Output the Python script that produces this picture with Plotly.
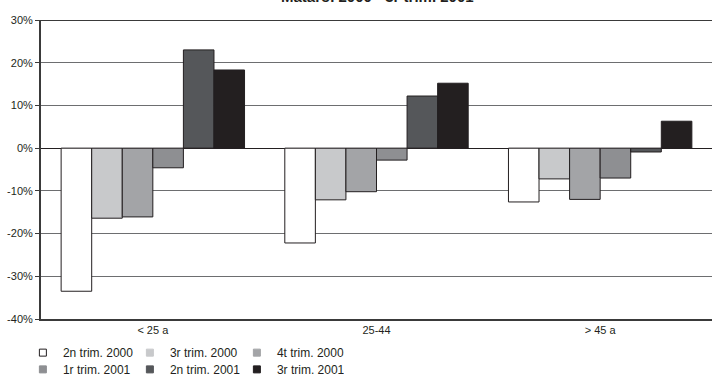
import plotly.graph_objects as go

groups = ['< 25 a', '25-44', '> 45 a']
series = ['2n trim. 2000', '3r trim. 2000', '4t trim. 2000',
          '1r trim. 2001', '2n trim. 2001', '3r trim. 2001']
values = [
    [-33.5, -22.2, -12.6],
    [-16.4, -12.1, -7.2],
    [-16.1, -10.2, -12.0],
    [-4.6, -2.8, -7.0],
    [23.0, 12.2, -0.9],
    [18.3, 15.2, 6.3],
]
colors = ['#ffffff', '#c8c9cb', '#a3a4a7', '#8e8f92', '#55575a', '#231f20']
y_ticks = [30, 20, 10, 0, -10, -20, -30, -40]
y_labels = [f'{v}%' for v in y_ticks]
title = 'Mataró. 2000 - 3r trim. 2001'

fig = go.Figure()

for name, vals, col in zip(series, values, colors):
    fig.add_trace(go.Bar(
        x=groups, y=vals, name=name, showlegend=False,
        marker=dict(color=col, line=dict(color='#231f20', width=1)),
    ))

# small square legend markers, two rows of three like the original
for i, (name, col) in enumerate(zip(series, colors)):
    fig.add_trace(go.Scatter(
        x=[None], y=[None], mode='markers', name=name,
        legend='legend' if i < 3 else 'legend2',
        marker=dict(symbol='square', size=7, color=col,
                    line=dict(color='#231f20' if col == '#ffffff' else col, width=1)),
    ))

leg = dict(orientation='h', xanchor='left', yanchor='top', x=-0.027,
           entrywidth=62, entrywidthmode='pixels', itemwidth=30,
           font=dict(size=12), bgcolor='rgba(0,0,0,0)')

fig.update_layout(
    width=712, height=376,
    margin=dict(l=41, r=0, t=20, b=57, autoexpand=False),
    plot_bgcolor='white', paper_bgcolor='white',
    font=dict(family='Liberation Sans, Arial, sans-serif', size=11, color='#231f20'),
    barmode='group', bargap=0.18, bargroupgap=0,
    legend=dict(leg, y=-0.064),
    legend2=dict(leg, y=-0.120),
)

# title sits partly above the page edge, as in the original
fig.add_annotation(text=f'<b>{title}</b>', x=0.502, y=1.043, xref='paper', yref='paper',
                   xanchor='center', yanchor='bottom', showarrow=False,
                   font=dict(size=15))

fig.update_yaxes(
    range=[-40, 30], tickvals=y_ticks, ticktext=y_labels,
    showgrid=True, gridcolor='#6d6e70', gridwidth=1,
    zeroline=True, zerolinecolor='#231f20', zerolinewidth=1,
    showline=True, linecolor='#3a3a3a', linewidth=2,
    ticks='outside', ticklen=4, tickcolor='#3a3a3a',
)
fig.update_xaxes(
    showline=True, linecolor='#3a3a3a', linewidth=2, ticks='',
)
# top border of the plot area
fig.add_hline(y=30, line=dict(color='#3a3a3a', width=2))

fig.write_html('out.html', config={'displayModeBar': False},
               post_script="document.body.style.margin='0';document.body.style.overflow='hidden';")
